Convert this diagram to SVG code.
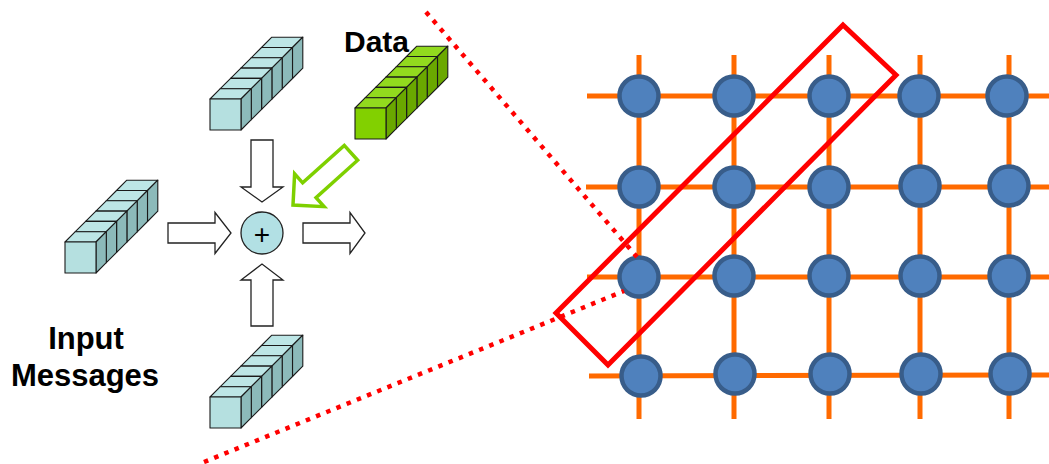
<svg xmlns="http://www.w3.org/2000/svg" xmlns:xlink="http://www.w3.org/1999/xlink" width="1049" height="464" viewBox="0 0 1049 464">
<style>
  .lbl { font-family: "Liberation Sans", Arial, sans-serif; font-weight: bold; font-size: 30px; fill: #000; }
  .cube { stroke: #1a1a1a; stroke-width: 1.1; stroke-linejoin: round; }
  .c-top { fill: #bde6e6; } .c-side { fill: #8cbaba; } .c-front { fill: #b5e0e0; }
  .g-top { fill: #92da1e; } .g-side { fill: #6aa800; } .g-front { fill: #82d000; }
  .blk { fill: #fff; stroke: #222; stroke-width: 1.3; stroke-linejoin: miter; }
  .grid { stroke: #ff6a00; stroke-width: 5; fill: none; }
  .node { fill: #4f81bd; stroke: #385d8a; stroke-width: 4.5; }
  .dots { stroke: #ff0000; stroke-width: 4.5; stroke-dasharray: 4.5 6.5; fill: none; }
</style>
<defs>
  <g id="stackCyan" class="cube">
    <polygon class="c-top" points="51.5,-51.5 82.5,-51.5 92.8,-61.8 61.8,-61.8"/>
    <polygon class="c-side" points="82.5,-51.5 92.8,-61.8 92.8,-30.8 82.5,-20.5"/>
    <polygon class="c-top" points="41.2,-41.2 72.2,-41.2 82.5,-51.5 51.5,-51.5"/>
    <polygon class="c-side" points="72.2,-41.2 82.5,-51.5 82.5,-20.5 72.2,-10.2"/>
    <polygon class="c-top" points="30.9,-30.9 61.9,-30.9 72.2,-41.2 41.2,-41.2"/>
    <polygon class="c-side" points="61.9,-30.9 72.2,-41.2 72.2,-10.2 61.9,0.1"/>
    <polygon class="c-top" points="20.6,-20.6 51.6,-20.6 61.9,-30.9 30.9,-30.9"/>
    <polygon class="c-side" points="51.6,-20.6 61.9,-30.9 61.9,0.1 51.6,10.4"/>
    <polygon class="c-top" points="10.3,-10.3 41.3,-10.3 51.6,-20.6 20.6,-20.6"/>
    <polygon class="c-side" points="41.3,-10.3 51.6,-20.6 51.6,10.4 41.3,20.7"/>
    <polygon class="c-top" points="0,0 31,0 41.3,-10.3 10.3,-10.3"/>
    <polygon class="c-side" points="31,0 41.3,-10.3 41.3,20.7 31,31"/>
    <rect class="c-front" x="0" y="0" width="31" height="31"/>
  </g>
  <g id="stackGreen" class="cube">
    <polygon class="g-top" points="51.5,-51.5 82.5,-51.5 92.8,-61.8 61.8,-61.8"/>
    <polygon class="g-side" points="82.5,-51.5 92.8,-61.8 92.8,-30.8 82.5,-20.5"/>
    <polygon class="g-top" points="41.2,-41.2 72.2,-41.2 82.5,-51.5 51.5,-51.5"/>
    <polygon class="g-side" points="72.2,-41.2 82.5,-51.5 82.5,-20.5 72.2,-10.2"/>
    <polygon class="g-top" points="30.9,-30.9 61.9,-30.9 72.2,-41.2 41.2,-41.2"/>
    <polygon class="g-side" points="61.9,-30.9 72.2,-41.2 72.2,-10.2 61.9,0.1"/>
    <polygon class="g-top" points="20.6,-20.6 51.6,-20.6 61.9,-30.9 30.9,-30.9"/>
    <polygon class="g-side" points="51.6,-20.6 61.9,-30.9 61.9,0.1 51.6,10.4"/>
    <polygon class="g-top" points="10.3,-10.3 41.3,-10.3 51.6,-20.6 20.6,-20.6"/>
    <polygon class="g-side" points="41.3,-10.3 51.6,-20.6 51.6,10.4 41.3,20.7"/>
    <polygon class="g-top" points="0,0 31,0 41.3,-10.3 10.3,-10.3"/>
    <polygon class="g-side" points="31,0 41.3,-10.3 41.3,20.7 31,31"/>
    <rect class="g-front" x="0" y="0" width="31" height="31"/>
  </g>
</defs>

<!-- Mesh grid -->
<g id="grid-lines" class="grid">
  <line x1="587" y1="96" x2="1049" y2="96"/>
  <line x1="586" y1="187" x2="1049" y2="187"/>
  <line x1="587" y1="277" x2="1049" y2="277"/>
  <line x1="589" y1="376" x2="1049" y2="375"/>
  <line x1="639" y1="55" x2="639" y2="419"/>
  <line x1="734" y1="55" x2="734" y2="419"/>
  <line x1="829" y1="55" x2="829" y2="419"/>
  <line x1="920" y1="55" x2="920" y2="419"/>
  <line x1="1009" y1="55" x2="1009" y2="419"/>
</g>
<g id="grid-nodes">
  <circle class="node" cx="639" cy="96" r="19.5"/>
  <circle class="node" cx="734" cy="96" r="19.5"/>
  <circle class="node" cx="829" cy="96" r="19.5"/>
  <circle class="node" cx="919" cy="96" r="19.5"/>
  <circle class="node" cx="1007" cy="96" r="19.5"/>
  <circle class="node" cx="639" cy="187" r="19.5"/>
  <circle class="node" cx="734" cy="187" r="19.5"/>
  <circle class="node" cx="829" cy="187" r="19.5"/>
  <circle class="node" cx="920" cy="186" r="19.5"/>
  <circle class="node" cx="1009" cy="186" r="19.5"/>
  <circle class="node" cx="639" cy="277" r="19.5"/>
  <circle class="node" cx="734" cy="276" r="19.5"/>
  <circle class="node" cx="829" cy="276" r="19.5"/>
  <circle class="node" cx="920" cy="276" r="19.5"/>
  <circle class="node" cx="1009" cy="276" r="19.5"/>
  <circle class="node" cx="641" cy="376" r="19.5"/>
  <circle class="node" cx="735" cy="374" r="19.5"/>
  <circle class="node" cx="830" cy="374" r="19.5"/>
  <circle class="node" cx="921" cy="374" r="19.5"/>
  <circle class="node" cx="1010" cy="374" r="19.5"/>
</g>
<g id="highlight">
  <polygon points="843,25 896,75 608,365 556,313" fill="none" stroke="#ff0000" stroke-width="5" stroke-linejoin="miter"/>
</g>

<!-- Processing element -->
<g id="stack-top"><use xlink:href="#stackCyan" transform="translate(210,99)"/></g>
<g id="stack-left"><use xlink:href="#stackCyan" transform="translate(65,242)"/></g>
<g id="stack-bottom"><use xlink:href="#stackCyan" transform="translate(210,397)"/></g>
<g id="stack-data"><use xlink:href="#stackGreen" transform="translate(355,108)"/></g>

<g id="connectors">
  <polygon class="blk" points="251,140 273,140 273,187 283,187 262,202 241,187 251,187"/>
  <polygon class="blk" points="168,223 215,223 215,212.5 231,233 215,253.5 215,243 168,243"/>
  <polygon class="blk" points="303,223 350,223 350,212.5 365,233 350,253.5 350,243 303,243"/>
  <polygon class="blk" points="251,326 273,326 273,280 283,280 262,264 241,280 251,280"/>
  <polygon transform="translate(293,205) rotate(-42)" points="0,0 22,-22 22,-10 78,-10 78,10 22,10 22,22" fill="#fff" stroke="#7ed000" stroke-width="3.5" stroke-linejoin="miter"/>
</g>

<g id="adder">
  <circle cx="262" cy="233" r="21" fill="#b2e0e4" stroke="#222" stroke-width="1.3"/>
  <text x="262" y="244" text-anchor="middle" font-family="Liberation Sans, Arial, sans-serif" font-size="28" fill="#000">+</text>
</g>

<g id="labels">
  <text class="lbl" x="344" y="52">Data</text>
  <text class="lbl" x="86" y="349" text-anchor="middle" style="font-size:31px">Input</text>
  <text class="lbl" x="85" y="386" text-anchor="middle" style="font-size:31px">Messages</text>
</g>

<g id="projection">
  <line class="dots" x1="426" y1="12" x2="637" y2="257"/>
  <line class="dots" x1="204" y1="462" x2="624" y2="291"/>
</g>
</svg>
